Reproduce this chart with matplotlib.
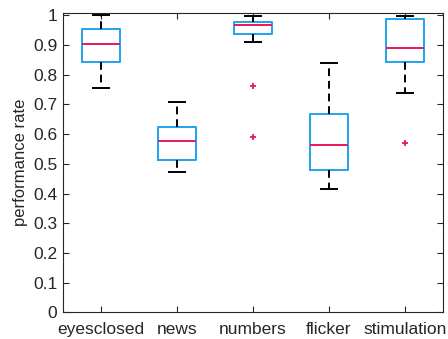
import matplotlib
matplotlib.use("Agg")
from matplotlib import pyplot as plt

# condition names and box statistics (performance rate)
conditions = ["eyesclosed", "news", "numbers", "flicker", "stimulation"]
whisker_low = [0.756, 0.472, 0.909, 0.416, 0.738]
quart1 = [0.844, 0.513, 0.936, 0.479, 0.843]
medians = [0.902, 0.577, 0.968, 0.563, 0.889]
quart3 = [0.953, 0.625, 0.977, 0.669, 0.988]
whisker_high = [1.0, 0.707, 0.999, 0.840, 0.999]
outliers = [[], [], [0.763, 0.590], [], [0.569]]

plt.rcParams['font.family'] = ['Liberation Sans', 'DejaVu Sans']

stats = []
for i in range(len(conditions)):
    stats.append({
        "label": conditions[i],
        "whislo": whisker_low[i],
        "q1": quart1[i],
        "med": medians[i],
        "q3": quart3[i],
        "whishi": whisker_high[i],
        "fliers": outliers[i],
    })

fig = plt.figure(figsize=(4.48, 3.39), dpi=100)
ax = fig.add_axes([0.1406, 0.0788, 0.8482, 0.882])

blue = "#1ea4ec"
red = "#e8195a"
ax.bxp(stats, widths=0.5, showcaps=True,
       boxprops=dict(color=blue, linewidth=1.4),
       medianprops=dict(color=red, linewidth=1.4),
       whiskerprops=dict(color="black", linestyle=(0, (4, 2.5)), linewidth=1.4),
       capprops=dict(color="black", linewidth=1.4),
       capwidths=0.22,
       flierprops=dict(marker="+", markeredgecolor=red, markersize=5, markeredgewidth=1.3))

ax.set_xlim(0.5, 5.5)
ax.set_ylim(0, 1.007)
ax.set_yticks([i / 10 for i in range(11)])
ax.set_yticklabels(["0", "0.1", "0.2", "0.3", "0.4", "0.5", "0.6", "0.7", "0.8", "0.9", "1"])
ax.set_ylabel("performance rate", fontsize=12, color="#262626", labelpad=4)
ax.tick_params(direction="in", top=True, right=True, labelsize=12.5,
               colors="#262626", length=4, pad=4)
ax.tick_params(axis="x", pad=7)
for sp in ax.spines.values():
    sp.set_color("#262626")
    sp.set_linewidth(0.8)

fig.savefig("out.png", dpi=100)
